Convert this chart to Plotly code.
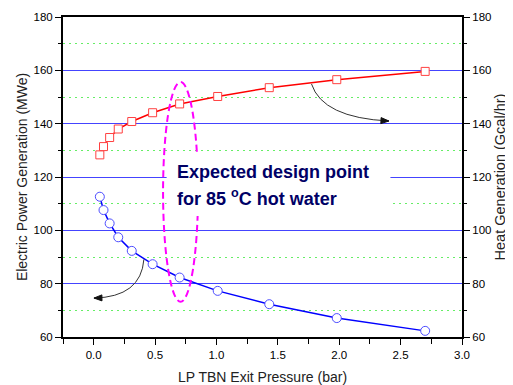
import plotly.graph_objects as go
import math

# ---- data ----
pressure = [0.05, 0.08, 0.13, 0.20, 0.31, 0.48, 0.70, 1.01, 1.43, 1.98, 2.70]
heat_gen = [128.3, 131.4, 134.8, 138.0, 140.8, 144.1, 147.4, 150.2, 153.5, 156.5, 159.6]
power_gen = [112.6, 107.6, 102.6, 97.4, 92.3, 87.3, 82.3, 77.3, 72.3, 67.1, 62.3]
x_ticks = [0.0, 0.5, 1.0, 1.5, 2.0, 2.5, 3.0]
y_ticks = [60, 80, 100, 120, 140, 160, 180]

FONT = "Liberation Sans, Arial, sans-serif"
X_RANGE = [-0.25, 3.0]
Y_RANGE = [60, 180]
# page body has an 8px default margin, so the figure is 8px smaller
W, H = 505, 377
ML, MR, MT, MB = 55, 51, 9, 48

fig = go.Figure()
fig.add_trace(go.Scatter(
    x=pressure, y=power_gen, mode="lines+markers", name="Electric power",
    line=dict(color="#0000ff", width=1.5),
    marker=dict(symbol="circle", size=9, color="white",
                line=dict(color="#4d4dff", width=1)),
    yaxis="y"))
fig.add_trace(go.Scatter(
    x=pressure, y=heat_gen, mode="lines+markers", name="Heat",
    line=dict(color="#ff0000", width=1.5),
    marker=dict(symbol="square", size=8, color="white",
                line=dict(color="#ff4040", width=1)),
    yaxis="y2"))

axis_common = dict(
    showline=True, linecolor="black", linewidth=2,
    ticks="outside", ticklen=6, tickwidth=1, tickcolor="black",
    tickfont=dict(family=FONT, size=11.5, color="black"),
    zeroline=False, automargin=False,
)

fig.update_layout(
    width=W, height=H,
    margin=dict(l=ML, r=MR, t=MT, b=MB),
    paper_bgcolor="white", plot_bgcolor="white",
    showlegend=False,
    xaxis=dict(
        range=X_RANGE, tickvals=x_ticks, tickformat=".1f",
        showgrid=False, mirror=True,
        minor=dict(dtick=0.25, tick0=0, ticks="outside", ticklen=5,
                   tickcolor="black", showgrid=False),
        title=dict(text="LP TBN Exit Pressure (bar)",
                   font=dict(family=FONT, size=14, color="#222"), standoff=13),
        **axis_common),
    yaxis=dict(
        range=Y_RANGE, tickvals=y_ticks,
        showgrid=True, gridcolor="#4444ff", gridwidth=1,
        minor=dict(dtick=10, tick0=60, ticks="outside", ticklen=3,
                   tickcolor="black", showgrid=True, gridcolor="#66ee66",
                   griddash="2px,4px", gridwidth=1),
        title=dict(text="Electric Power Generation (MWe)",
                   font=dict(family=FONT, size=14, color="#222"), standoff=3),
        **axis_common),
    yaxis2=dict(
        range=Y_RANGE, tickvals=y_ticks, overlaying="y", side="right",
        showgrid=False,
        minor=dict(dtick=10, tick0=60, ticks="outside", ticklen=3,
                   tickcolor="black", showgrid=False),
        title=dict(text="Heat Generation (Gcal/hr)",
                   font=dict(family=FONT, size=14.5, color="#222"), standoff=4),
        **axis_common),
)

# pixel scale helpers for decoration geometry
PW = W - ML - MR
PH = H - MT - MB
sx = PW / (X_RANGE[1] - X_RANGE[0])   # px per x unit
sy = PH / (Y_RANGE[1] - Y_RANGE[0])   # px per y unit

# ---- decorations (ellipse, text box, arrows) ----
shapes = []
shapes.append(dict(type="circle", xref="x", yref="y", layer="above",
                   x0=0.565, x1=0.850, y0=73.2, y1=155.6,
                   line=dict(color="#ff00ff", width=2, dash="7px,4px")))
shapes.append(dict(type="rect", xref="x", yref="y", layer="above",
                   x0=0.594, x1=2.417, y0=105.4, y1=128.6,
                   fillcolor="white", line=dict(width=0)))

def qpath(p0, c, p1):
    return f"M {p0[0]},{p0[1]} Q {c[0]},{c[1]} {p1[0]},{p1[1]}"

def head(c, p1, length=8, half=3):
    dx = (p1[0] - c[0]) * sx
    dy = -(p1[1] - c[1]) * sy
    n = math.hypot(dx, dy)
    ux, uy = dx / n, dy / n
    bx, by = -ux * length, -uy * length
    px, py = -uy * half, ux * half
    pts = [(0, 0), (bx + px, by + py), (bx - px, by - py)]
    coords = [(p1[0] + a / sx, p1[1] - b / sy) for a, b in pts]
    return "M " + " L ".join(f"{x},{y}" for x, y in coords) + " Z"

# arrow towards right axis (heat)
a1 = ((1.774, 154.9), (1.864, 142.2), (2.405, 141.0))
# arrow towards left axis (power)
a2 = ((0.409, 89.1), (0.385, 75.0), (0.002, 74.6))
for p0, c, p1 in (a1, a2):
    shapes.append(dict(type="path", xref="x", yref="y", layer="above",
                       path=qpath(p0, c, p1),
                       line=dict(color="#333333", width=1)))
    shapes.append(dict(type="path", xref="x", yref="y", layer="above",
                       path=head(c, p1), fillcolor="#111111",
                       line=dict(color="#111111", width=1)))
fig.update_layout(shapes=shapes)

fig.add_annotation(x=0.66, y=121.7, xref="x", yref="y", xanchor="left",
                   yanchor="middle", showarrow=False,
                   text="<b>Expected design point</b>",
                   font=dict(family=FONT, size=18, color="#000066"))
fig.add_annotation(x=0.66, y=112.3, xref="x", yref="y", xanchor="left",
                   yanchor="middle", showarrow=False,
                   text="<b>for 85 <sup>o</sup>C hot water</b>",
                   font=dict(family=FONT, size=18, color="#000066"))

fig.write_html("out.html")
